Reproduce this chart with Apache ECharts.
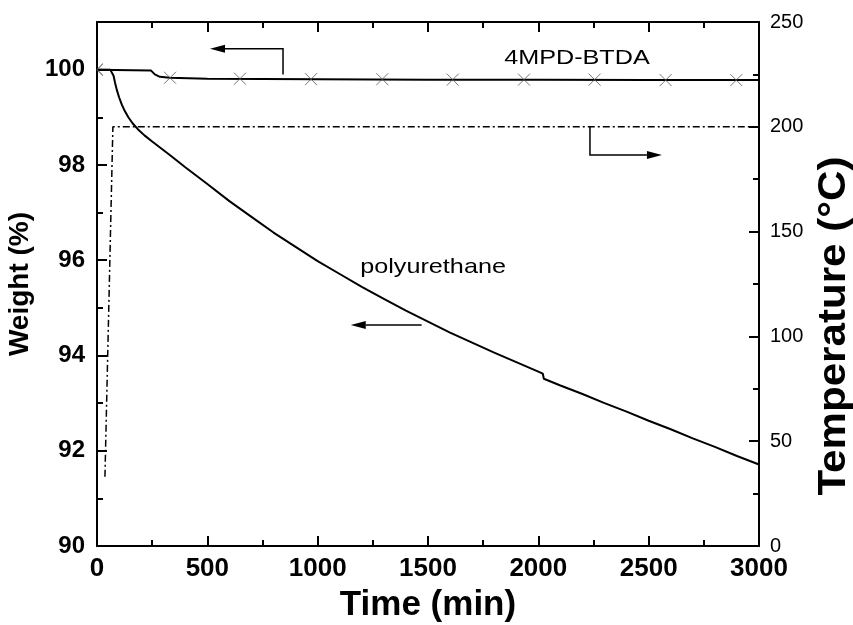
<!DOCTYPE html>
<html>
<head>
<meta charset="utf-8">
<script src="https://cdn.jsdelivr.net/npm/echarts@6/dist/echarts.min.js"></script>
<style>
  html, body { margin: 0; padding: 0; background: #fff; }
  #chart { width: 853px; height: 625px; }
</style>
</head>
<body>
<div id="chart"></div>
<script>
const FONT = '"Liberation Sans", Arial, Helvetica, sans-serif';

// Polyurethane: isothermal weight loss, time in min, weight in %
const puTime = [0, 60, 68, 75, 82, 90, 100, 112, 126, 142, 162, 185, 215, 250, 290, 340, 400, 500,
  600, 700, 800, 900, 1000, 1100, 1200, 1300, 1400, 1500, 1600, 1700, 1800, 1900, 2000, 2020,
  2025, 2100, 2200, 2300, 2400, 2500, 2600, 2700, 2800, 2900, 3000];
const puWeight = [100, 100, 99.97, 99.87, 99.72, 99.57, 99.42, 99.27, 99.13, 99.0, 98.87, 98.75,
  98.62, 98.49, 98.35, 98.17, 97.95, 97.6, 97.24, 96.91, 96.58, 96.28, 95.98, 95.71, 95.44, 95.19,
  94.94, 94.71, 94.48, 94.27, 94.06, 93.86, 93.66, 93.62, 93.51, 93.37, 93.19, 93.0, 92.82, 92.63,
  92.45, 92.26, 92.08, 91.89, 91.71];

// 4MPD-BTDA: weight trace
const bpTime = [0, 245, 262, 285, 330, 500, 1000, 1500, 2000, 2500, 3000];
const bpWeight = [100, 99.98, 99.9, 99.85, 99.83, 99.81, 99.8, 99.79, 99.79, 99.78, 99.78];
// 4MPD-BTDA: symbol positions along the trace
const markTime = [0, 331, 648, 970, 1293, 1612, 1935, 2255, 2577, 2897];
const markWeight = [100, 99.83, 99.81, 99.8, 99.8, 99.79, 99.79, 99.79, 99.78, 99.78];

// Furnace temperature programme (deg C)
const tempTime = [36, 72, 3000];
const tempValue = [33, 200, 200];

// Axis ranges and tick spacing
const timeRange = [0, 3000], timeStep = 500;
const weightRange = [90, 101], weightStep = 2;
const tempRange = [0, 250], tempStep = 50;

const zip = (a, b) => a.map((v, i) => [v, b[i]]);

const chart = echarts.init(document.getElementById('chart'), null, { renderer: 'canvas' });

const axisLine = { show: true, onZero: false, lineStyle: { color: '#000', width: 2 } };
const plain = v => String(v);

const option = {
  backgroundColor: '#fff',
  animation: false,
  grid: { left: 97, right: 94, top: 22, bottom: 79, containLabel: false, outerBoundsMode: 'none' },
  xAxis: [
    {
      type: 'value', position: 'bottom', min: timeRange[0], max: timeRange[1], interval: timeStep,
      axisLine,
      axisTick: { inside: true, length: 10, lineStyle: { color: '#000', width: 2 } },
      minorTick: { show: true, splitNumber: 2, length: 6, lineStyle: { color: '#000', width: 2 } },
      splitLine: { show: false },
      axisLabel: { color: '#000', fontFamily: FONT, fontWeight: 'bold', fontSize: 26, margin: 10,
        formatter: plain },
      name: 'Time (min)', nameLocation: 'middle', nameGap: 42,
      nameTextStyle: { color: '#000', fontFamily: FONT, fontWeight: 'bold', fontSize: 35 }
    },
    {
      type: 'value', position: 'top', min: timeRange[0], max: timeRange[1], interval: timeStep,
      axisLine,
      axisTick: { inside: true, length: 10, lineStyle: { color: '#000', width: 2 } },
      minorTick: { show: true, splitNumber: 2, length: 6, lineStyle: { color: '#000', width: 2 } },
      splitLine: { show: false },
      axisLabel: { show: false }
    }
  ],
  yAxis: [
    {
      type: 'value', position: 'left', min: weightRange[0], max: weightRange[1], interval: weightStep,
      axisLine,
      axisTick: { inside: true, length: 10, lineStyle: { color: '#000', width: 2 } },
      splitLine: { show: false },
      axisLabel: { color: '#000', fontFamily: FONT, fontWeight: 'bold', fontSize: 24, margin: 12,
        showMaxLabel: false, formatter: plain },
      name: 'Weight (%)', nameLocation: 'middle', nameGap: 54, nameRotate: 90,
      nameTextStyle: { color: '#000', fontFamily: FONT, fontWeight: 'bold', fontSize: 28 }
    },
    {
      // unit ticks between the labelled weight ticks
      type: 'value', position: 'left', min: weightRange[0], max: weightRange[1], interval: 1,
      axisLine: { show: false },
      axisTick: { inside: true, length: 6, lineStyle: { color: '#000', width: 2 } },
      splitLine: { show: false },
      axisLabel: { show: false }
    },
    {
      type: 'value', position: 'right', min: tempRange[0], max: tempRange[1], interval: tempStep,
      axisLine,
      axisTick: { inside: true, length: 10, lineStyle: { color: '#000', width: 2 } },
      minorTick: { show: true, splitNumber: 2, length: 6, lineStyle: { color: '#000', width: 2 } },
      splitLine: { show: false },
      axisLabel: { color: '#000', fontFamily: FONT, fontSize: 20, margin: 11, formatter: plain }
    }
  ],
  series: [
    {
      name: '4MPD-BTDA', type: 'line', xAxisIndex: 0, yAxisIndex: 0,
      data: zip(bpTime, bpWeight), showSymbol: false, symbol: 'none',
      lineStyle: { color: '#000', width: 2 }, z: 3
    },
    {
      name: '4MPD-BTDA marks', type: 'scatter', xAxisIndex: 0, yAxisIndex: 0,
      data: zip(markTime, markWeight).map((p, i) => i === 0
        ? { value: p, symbol: 'path://M10,0L0,5L10,10', symbolSize: [6, 12], symbolOffset: [3, 0] }
        : { value: p }),
      symbol: 'path://M0,0L10,10M10,0L0,10', symbolSize: 12,
      itemStyle: { color: 'none', borderColor: '#555', borderWidth: 1 }, z: 4
    },
    {
      name: 'polyurethane', type: 'line', xAxisIndex: 0, yAxisIndex: 0,
      data: zip(puTime, puWeight), showSymbol: false, symbol: 'none',
      lineStyle: { color: '#000', width: 2 }, z: 3
    },
    {
      name: 'Temperature', type: 'line', xAxisIndex: 0, yAxisIndex: 2,
      data: zip(tempTime, tempValue), showSymbol: false, symbol: 'none',
      lineStyle: { color: '#000', width: 1.5, type: [7, 3, 2, 3] }, z: 2
    }
  ]
};

chart.setOption(option);

// Annotation arrows, given in data space: [axis, points]
const arrows = [
  { y: 0, pts: [[843, 99.9], [843, 100.44], [512, 100.44]] },
  { y: 2, pts: [[2234, 200], [2234, 186.5], [2560, 186.5]] },
  { y: 0, pts: [[1471, 94.64], [1150, 94.64]] }
];
// Curve labels, given in data space
const labels = [
  { text: '4MPD-BTDA', at: [2175, 100.25] },
  { text: 'polyurethane', at: [1523, 95.86] }
];

const px = (p, yIdx) => chart.convertToPixel({ xAxisIndex: 0, yAxisIndex: yIdx }, p);

const graphics = [];
arrows.forEach(a => {
  const pts = a.pts.map(p => px(p, a.y));
  const n = pts.length;
  const tip = pts[n - 1], prev = pts[n - 2];
  const dx = tip[0] - prev[0], dy = tip[1] - prev[1];
  const len = Math.hypot(dx, dy), ux = dx / len, uy = dy / len;
  const headLen = 15, headHalf = 4;
  const base = [tip[0] - ux * headLen, tip[1] - uy * headLen];
  const shaft = pts.slice(0, n - 1).concat([base]);
  graphics.push({
    type: 'polyline', shape: { points: shaft }, silent: true, z: 10,
    style: { stroke: '#000', lineWidth: 1.5, fill: null }
  });
  graphics.push({
    type: 'polygon', silent: true, z: 10,
    shape: { points: [tip, [base[0] - uy * headHalf, base[1] + ux * headHalf],
      [base[0] + uy * headHalf, base[1] - ux * headHalf]] },
    style: { fill: '#000' }
  });
});
labels.forEach(l => {
  const p = px(l.at, 0);
  graphics.push({
    type: 'text', x: p[0], y: p[1], scaleX: 1.2, silent: true, z: 10,
    style: { text: l.text, fill: '#000', font: '21px ' + FONT, textAlign: 'center', textVerticalAlign: 'middle' }
  });
});

// Right-hand axis title, read bottom to top
graphics.push({
  type: 'text', x: 834, y: 326, rotation: Math.PI / 2, scaleX: 1.08, silent: true, z: 10,
  style: { text: 'Temperature (\u00B0C)', fill: '#000', font: 'bold 39px ' + FONT,
    textAlign: 'center', textVerticalAlign: 'middle' }
});
chart.setOption({ graphic: graphics });
</script>
</body>
</html>
